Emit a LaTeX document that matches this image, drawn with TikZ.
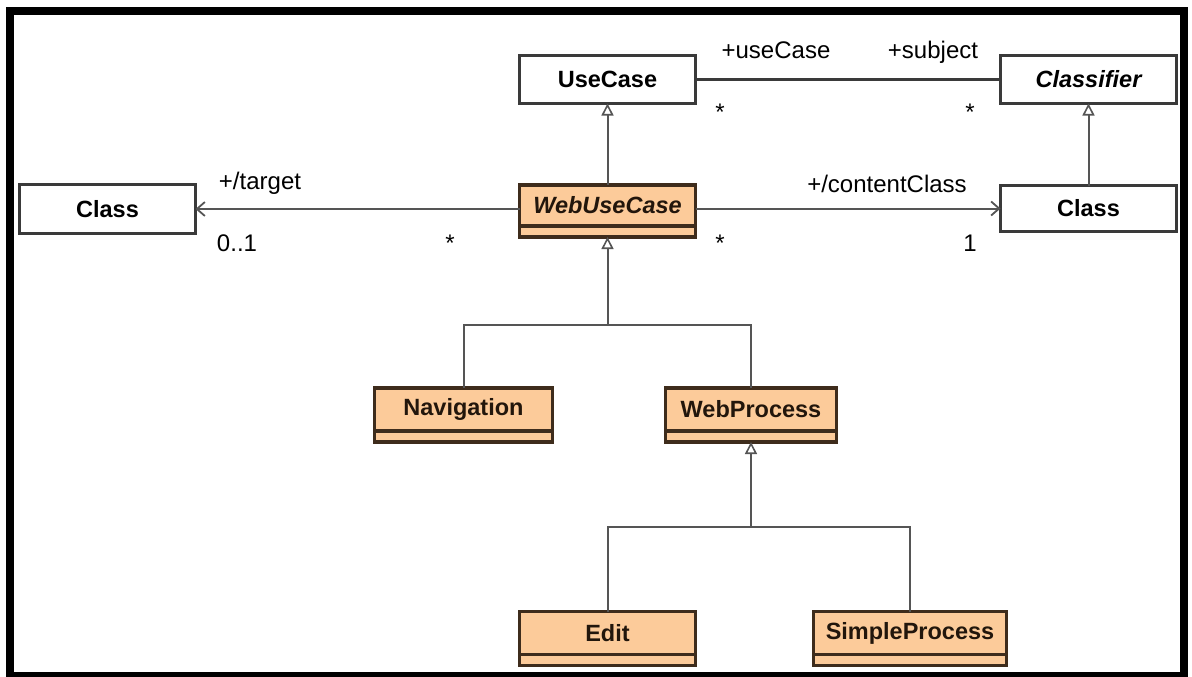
\documentclass[tikz,border=0pt]{standalone}
\usepackage{fontspec}
\setmainfont{Liberation Sans}
\usetikzlibrary{arrows.meta}
\definecolor{peach}{HTML}{FCCB9A}
\definecolor{brownline}{HTML}{3E2C1C}
\definecolor{boxline}{HTML}{3A3A3A}
\definecolor{connline}{HTML}{555555}
\definecolor{darktext}{HTML}{22160C}

\begin{document}
\begin{tikzpicture}[x=1pt,y=-1pt,
  classbox/.style={draw=boxline, line width=3.5, fill=white, inner sep=0, outer sep=0,
    font=\fontsize{23.5}{27}\selectfont\bfseries},
  webbox/.style={classbox, draw=brownline, fill=peach, text=darktext},
  opsbox/.style={draw=brownline, fill=peach, line width=3.5, inner sep=0, outer sep=0,
    minimum height=11},
  role/.style={inner sep=0, anchor=base, font=\fontsize{24}{28}\selectfont},
  gen/.style={draw=connline, line width=2,
    -{Triangle[open, length=12, width=12, line width=1.6]}},
  genline/.style={draw=connline, line width=2},
  assoc/.style={draw=connline, line width=2,
    -{Straight Barb[length=8, width=14, line width=1.8]}},
  link/.style={draw=boxline, line width=3}
]
\useasboundingbox (0,0) rectangle (1192,677);
\fill[white] (0,0) rectangle (1192,677);
\draw[line width=8, black] (10,11) rectangle (1184,676);

% plain classes
\node[classbox, minimum width=176, minimum height=48] (uc) at (607.5,79.5) {UseCase};
\node[classbox, minimum width=176, minimum height=48] (clf) at (1088.5,79.5) {\itshape Classifier};
\node[classbox, minimum width=176, minimum height=46] (classR) at (1088.5,208.5) {Class};
\node[classbox, minimum width=176, minimum height=49] (classL) at (107.5,209) {Class};

% stereotyped web classes: name compartment + empty operations compartment
\node[webbox, minimum width=176, minimum height=41] (wuc) at (607.5,205.5) {\itshape WebUseCase};
\node[opsbox, minimum width=176, anchor=north] (wucops) at (wuc.south) {};

\node[webbox, minimum width=178, minimum height=43] (nav) at (463.5,409.5) {Navigation};
\node[opsbox, minimum width=178, anchor=north] (navops) at (nav.south) {};

\node[webbox, minimum width=171, minimum height=43] (wp) at (751,409.5) {WebProcess};
\node[opsbox, minimum width=171, anchor=north] (wpops) at (wp.south) {};

\node[webbox, minimum width=176, minimum height=43] (edit) at (607.5,633) {Edit};
\node[opsbox, minimum width=176, anchor=north] (editops) at (edit.south) {};

\node[webbox, minimum width=193, minimum height=43] (sp) at (910,633) {SimpleProcess};
\node[opsbox, minimum width=193, anchor=north] (spops) at (sp.south) {};

% associations
\draw[link] (uc.east) -- (clf.west);
\draw[assoc] (wuc.west |- classL.east) -- (classL.east);
\draw[assoc] (wuc.east |- classR.west) -- (classR.west);

% generalizations
\draw[gen] (wuc.north) -- (uc.south);
\draw[gen] (classR.north) -- (clf.south);

\coordinate (j1) at (607.5,325);
\draw[gen] (j1) -- (wucops.south);
\draw[genline] (nav.north) |- (j1);
\draw[genline] (wp.north) |- (j1);

\coordinate (j2) at (751,527);
\draw[gen] (j2) -- (wpops.south);
\draw[genline] (edit.north) |- (j2);
\draw[genline] (sp.north) |- (j2);

% role names and multiplicities
\node[role] (r1) at (776,59) {+useCase};
\node[role] (r2) at (933,59) {+subject};
\node[role] (m1) at (720,121) {*};
\node[role] (m2) at (970,121) {*};
\node[role] (r3) at (260,189) {+/target};
\node[role] (m3) at (237,251) {0..1};
\node[role] (m4) at (450,251) {*};
\node[role] (r4) at (887,192) {+/contentClass};
\node[role] (m5) at (720,251) {*};
\node[role] (m6) at (970,251) {1};
\end{tikzpicture}
\end{document}
